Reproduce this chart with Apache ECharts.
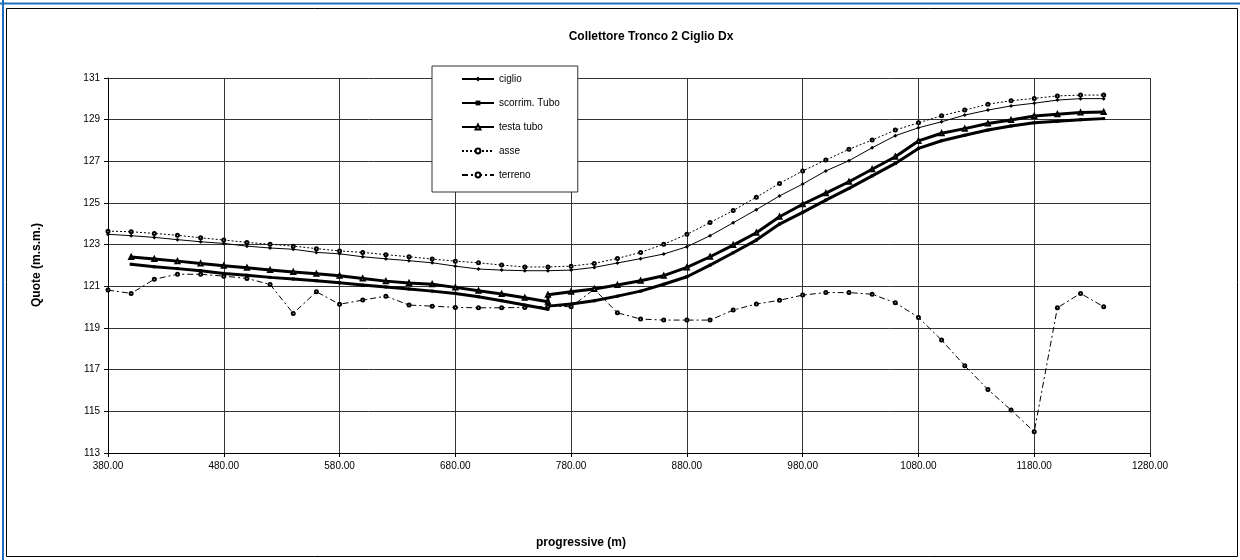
<!DOCTYPE html>
<html>
<head>
<meta charset="utf-8">
<script src="https://cdn.jsdelivr.net/npm/echarts@6/dist/echarts.min.js"></script>
<style>
html,body{margin:0;padding:0;background:#fff;}
#chart{width:1240px;height:560px;}
</style>
</head>
<body>
<div id="chart"></div>
<script>
// ---- data ----
const X_MAIN = [380,400,420,440,460,480,500,520,540,560,580,600,620,640,660,680,700,720,740,760,780,800,820,840,860,880,900,920,940,960,980,1000,1020,1040,1060,1080,1100,1120,1140,1160,1180,1200,1220,1240];
const ciglio = [123.50,123.43,123.35,123.24,123.14,123.06,122.93,122.84,122.78,122.63,122.56,122.42,122.32,122.23,122.13,121.97,121.83,121.78,121.75,121.75,121.78,121.91,122.12,122.33,122.55,122.90,123.43,124.05,124.68,125.34,125.91,126.54,127.03,127.65,128.23,128.61,128.90,129.22,129.46,129.66,129.79,129.94,130.01,130.01];
const asse = [123.65,123.62,123.54,123.45,123.33,123.22,123.11,123.02,122.93,122.81,122.70,122.63,122.52,122.42,122.31,122.21,122.13,122.02,121.93,121.93,121.97,122.10,122.34,122.63,123.02,123.50,124.06,124.64,125.28,125.94,126.54,127.06,127.58,128.02,128.50,128.85,129.19,129.46,129.74,129.91,130.02,130.14,130.18,130.18];
const terreno = [120.82,120.66,121.34,121.58,121.58,121.49,121.38,121.09,119.70,120.74,120.14,120.34,120.53,120.10,120.05,119.99,119.97,119.97,119.99,120.05,120.02,120.86,119.73,119.43,119.38,119.38,119.38,119.86,120.15,120.33,120.58,120.70,120.70,120.62,120.21,119.51,118.42,117.19,116.05,115.06,114.02,119.97,120.66,120.02];

const X_TUBO = [400,420,440,460,480,500,520,540,560,580,600,620,640,660,680,700,720,740,760,760,780,800,820,840,860,880,900,920,940,960,980,1000,1020,1040,1060,1080,1100,1120,1140,1160,1180,1200,1220,1240];
const scorrimTubo = [122.06,121.94,121.85,121.75,121.62,121.53,121.43,121.35,121.27,121.17,121.06,120.97,120.87,120.77,120.66,120.50,120.31,120.10,119.90,120.05,120.15,120.31,120.53,120.77,121.10,121.46,122.02,122.61,123.22,123.99,124.55,125.14,125.70,126.30,126.90,127.62,127.99,128.25,128.50,128.70,128.85,128.92,129.00,129.05];
const testaTubo = [122.41,122.31,122.21,122.10,121.99,121.89,121.78,121.69,121.60,121.51,121.38,121.25,121.16,121.10,120.95,120.79,120.63,120.45,120.26,120.60,120.74,120.87,121.06,121.27,121.51,121.91,122.42,122.98,123.57,124.34,124.94,125.47,126.02,126.62,127.22,127.98,128.35,128.57,128.82,128.98,129.18,129.26,129.34,129.37];

const SERIES_NAMES = ['ciglio','scorrim. Tubo','testa tubo','asse','terreno'];
const TITLE = 'Collettore Tronco 2 Ciglio Dx';
const X_TITLE = 'progressive (m)';
const Y_TITLE = 'Quote (m.s.m.)';

// ---- chart ----
const FONT = '"Liberation Sans", Arial, sans-serif';
const pairs = (xs, ys) => xs.map((x, i) => [x, ys[i]]);

const chart = echarts.init(document.getElementById('chart'), null, {renderer: 'canvas'});
const option = {
  animation: false,
  backgroundColor: '#fff',
  textStyle: {fontFamily: FONT},
  grid: {left: 108, right: 90, top: 78, bottom: 107, containLabel: false},
  xAxis: {
    type: 'value', min: 380, max: 1280, interval: 100,
    axisLine: {show: true, onZero: false, lineStyle: {color: '#000', width: 1}},
    axisTick: {show: true, length: 4, lineStyle: {color: '#000'}},
    axisLabel: {color: '#000', fontSize: 10, margin: 8, fontFamily: FONT,
      formatter: v => Number(v).toFixed(2)},
    splitLine: {show: true, lineStyle: {color: '#333', width: 1}}
  },
  yAxis: {
    type: 'value', min: 113, max: 131, interval: 2,
    axisLine: {show: true, onZero: false, lineStyle: {color: '#000', width: 1}},
    axisTick: {show: true, length: 4, lineStyle: {color: '#000'}},
    axisLabel: {color: '#000', fontSize: 10, margin: 8, fontFamily: FONT},
    splitLine: {show: true, lineStyle: {color: '#333', width: 1}}
  },
  legend: {
    orient: 'vertical', left: 432, top: 66,
    padding: [8, 18, 12, 29], itemGap: 14, itemWidth: 32, itemHeight: 6,
    backgroundColor: '#fff', borderColor: '#333', borderWidth: 1,
    textStyle: {color: '#000', fontSize: 10, fontFamily: FONT},
    data: SERIES_NAMES
  },
  series: [
    {name: SERIES_NAMES[0], type: 'line', data: pairs(X_MAIN, ciglio),
      symbol: 'diamond', symbolSize: 4,
      lineStyle: {color: '#000', width: 1}, itemStyle: {color: '#000'}},
    {name: SERIES_NAMES[1], type: 'line', data: pairs(X_TUBO, scorrimTubo),
      symbol: 'rect', symbolSize: 3,
      lineStyle: {color: '#000', width: 3}, itemStyle: {color: '#000'}},
    {name: SERIES_NAMES[2], type: 'line', data: pairs(X_TUBO, testaTubo),
      symbol: 'emptyTriangle', symbolSize: 4,
      lineStyle: {color: '#000', width: 3}, itemStyle: {color: '#000', borderColor: '#000', borderWidth: 1}},
    {name: SERIES_NAMES[3], type: 'line', data: pairs(X_MAIN, asse),
      symbol: 'emptyCircle', symbolSize: 3,
      lineStyle: {color: '#000', width: 1, type: [2, 2]}, itemStyle: {color: '#000', borderColor: '#000', borderWidth: 1}},
    {name: SERIES_NAMES[4], type: 'line', data: pairs(X_MAIN, terreno),
      symbol: 'emptyCircle', symbolSize: 3,
      lineStyle: {color: '#000', width: 1, type: [6, 3, 2, 3]}, itemStyle: {color: '#000', borderColor: '#000', borderWidth: 1}}
  ],
  graphic: [
    {type: 'line', shape: {x1: 0, y1: 3.5, x2: 1240, y2: 3.5}, style: {stroke: '#1f6fbf', lineWidth: 2}, silent: true},
    {type: 'line', shape: {x1: 3, y1: 0, x2: 3, y2: 560}, style: {stroke: '#1f6fbf', lineWidth: 2}, silent: true},
    {type: 'rect', shape: {x: 6.5, y: 8.5, width: 1231, height: 548}, style: {fill: null, stroke: '#000', lineWidth: 1}, silent: true},
    {type: 'text', x: 651, y: 37, style: {text: TITLE, fontSize: 12, fontWeight: 'bold', fontFamily: FONT, fill: '#000', align: 'center', verticalAlign: 'middle'}},
    {type: 'text', x: 581, y: 543, style: {text: X_TITLE, fontSize: 12, fontWeight: 'bold', fontFamily: FONT, fill: '#000', align: 'center', verticalAlign: 'middle'}},
    {type: 'text', x: 37, y: 265, rotation: Math.PI / 2, style: {text: Y_TITLE, fontSize: 12, fontWeight: 'bold', fontFamily: FONT, fill: '#000', align: 'center', verticalAlign: 'middle'}}
  ]
};
chart.setOption(option);
</script>
</body>
</html>
